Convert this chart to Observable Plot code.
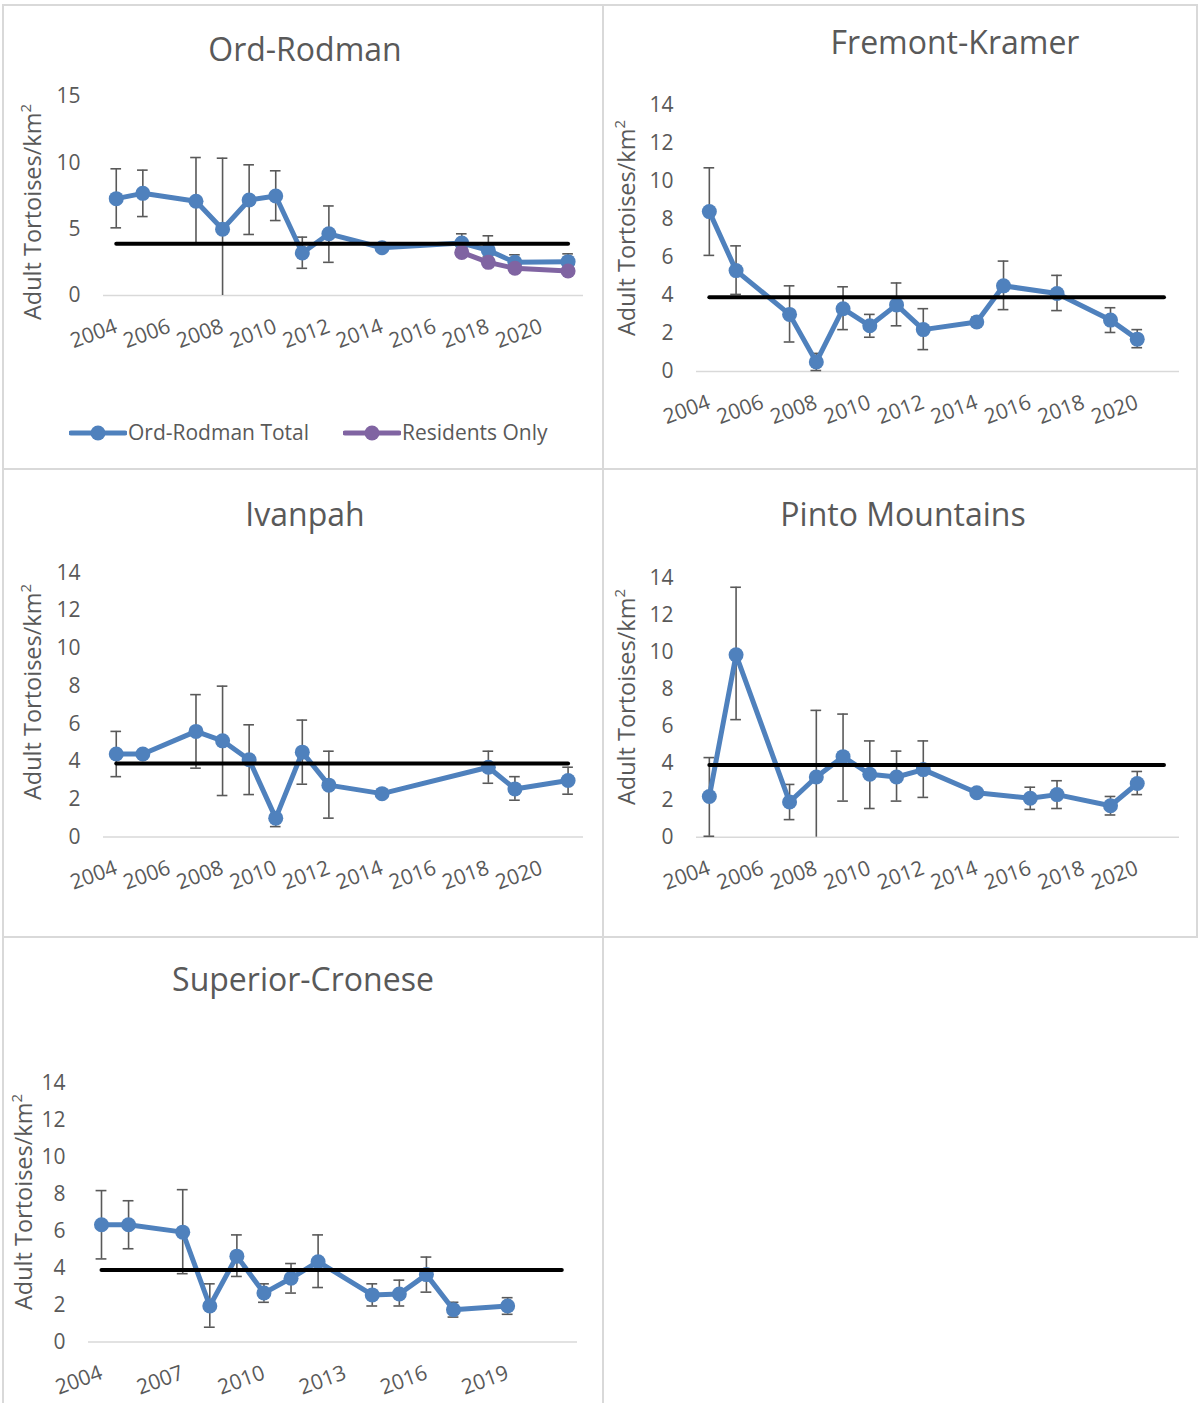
<!DOCTYPE html>
<html><head><meta charset="utf-8">
<script src="https://cdn.jsdelivr.net/npm/d3@7"></script>
<script src="https://cdn.jsdelivr.net/npm/@observablehq/plot@0.6"></script>
<style>
body{margin:0;background:#fff;}
#root{position:relative;width:1199px;height:1403px;overflow:hidden;font-family:"Open Sans",sans-serif;color:#595959;background:#fff;}
.ln{position:absolute;background:#d9d9d9;z-index:5;}
.title{position:absolute;font-size:32px;line-height:1;white-space:nowrap;transform:translateX(-50%);}
.ytitle{position:absolute;font-size:23.5px;line-height:1;white-space:nowrap;transform:translate(-50%,-50%) rotate(-90deg);}
.ytitle sup{font-size:15px;vertical-align:top;position:relative;top:-3px;}
.panel{position:absolute;}
.leg{position:absolute;font-size:21px;line-height:1;white-space:nowrap;}
</style></head><body><div id="root"></div><script>
// ---------- data ----------
const target = 3.9;
const targetYears = [2004, 2021];

const orYears = [2004,2005,2007,2008,2009,2010,2011,2012,2014,2017,2018,2019,2021];
const orTotal = [7.3,7.7,7.1,5.0,7.2,7.5,3.2,4.65,3.6,3.95,3.4,2.5,2.55];
const orLow   = [5.1,5.95,3.9,0,4.6,5.65,2.05,2.5,null,3.3,2.9,2.1,2.1];
const orHigh  = [9.55,9.45,10.4,10.35,9.85,9.4,4.4,6.75,null,4.65,4.5,3.07,3.14];
const resYears = [2017,2018,2019,2021];
const resOnly  = [3.25,2.5,2.05,1.85];

const fkYears = [2004,2005,2007,2008,2009,2010,2011,2012,2014,2015,2017,2019,2020];
const fkVals  = [8.4,5.3,3.0,0.5,3.3,2.4,3.5,2.2,2.6,4.5,4.1,2.7,1.7];
const fkLow   = [6.1,4.05,1.55,0.05,2.2,1.8,2.4,1.15,2.4,3.25,3.2,2.05,1.25];
const fkHigh  = [10.7,6.6,4.5,0.95,4.45,3.0,4.65,3.3,2.85,5.8,5.05,3.35,2.2];

const ivYears = [2004,2005,2007,2008,2009,2010,2011,2012,2014,2018,2019,2021];
const ivVals  = [4.4,4.4,5.6,5.1,4.1,1.0,4.5,2.75,2.3,3.7,2.55,3.0];
const ivLow   = [3.2,null,3.65,2.2,2.25,0.55,2.8,1.0,null,2.85,1.95,2.27];
const ivHigh  = [5.6,null,7.55,8.0,5.95,1.2,6.2,4.55,null,4.55,3.2,3.7];

const pmYears = [2004,2005,2007,2008,2009,2010,2011,2012,2014,2016,2017,2019,2020];
const pmVals  = [2.2,9.85,1.9,3.25,4.35,3.4,3.25,3.65,2.4,2.1,2.3,1.7,2.9];
const pmLow   = [0.05,6.35,0.95,0,1.95,1.55,1.95,2.15,null,1.5,1.55,1.2,2.3];
const pmHigh  = [4.3,13.5,2.85,6.85,6.65,5.2,4.65,5.2,null,2.7,3.05,2.2,3.55];

const scYears = [2004,2005,2007,2008,2009,2010,2011,2012,2014,2015,2016,2017,2019];
const scVals  = [6.35,6.35,5.95,1.95,4.65,2.65,3.45,4.35,2.55,2.6,3.65,1.75,1.95];
const scLow   = [4.5,5.05,3.7,0.8,3.55,2.15,2.65,2.95,1.95,1.95,2.7,1.35,1.5];
const scHigh  = [8.2,7.65,8.25,3.15,5.8,3.15,4.25,5.8,3.15,3.35,4.6,2.15,2.4];

const ticksEven = [2004,2006,2008,2010,2012,2014,2016,2018,2020];
const ticksThree = [2004,2007,2010,2013,2016,2019];
const yTicks15 = [0,5,10,15];
const yTicks14 = [0,2,4,6,8,10,12,14];

// ---------- drawing ----------
const BLUE = "#4f81bd", PURPLE = "#8064a2", ERR = "#595959";
const root = document.getElementById("root");

function rows(years, vals, lo, hi) {
  return years.map((y, i) => ({year: y, v: vals[i], lo: lo ? lo[i] : null, hi: hi ? hi[i] : null}));
}

function panel(cfg) {
  const data = rows(cfg.years, cfg.vals, cfg.lo, cfg.hi);
  const err = data.filter(d => d.hi != null);
  const tgt = targetYears.map(y => ({year: y, v: target}));
  const marks = [
    Plot.ruleY([0], {stroke: "#d9d9d9", strokeWidth: 1.5}),
    Plot.ruleX(err, {x: "year", y1: "lo", y2: "hi", stroke: ERR, strokeWidth: 1.6}),
    Plot.ruleY(err, {y: "hi", x1: d => d.year - 0.2, x2: d => d.year + 0.2, stroke: ERR, strokeWidth: 1.6}),
    Plot.ruleY(err.filter(d => d.lo > 0), {y: "lo", x1: d => d.year - 0.2, x2: d => d.year + 0.2, stroke: ERR, strokeWidth: 1.6}),
    Plot.line(data, {x: "year", y: "v", stroke: BLUE, strokeWidth: 5}),
    Plot.dot(data, {x: "year", y: "v", fill: BLUE, r: 7.5}),
  ];
  if (cfg.extra) {
    const ex = rows(cfg.extra.years, cfg.extra.vals);
    marks.push(Plot.line(ex, {x: "year", y: "v", stroke: PURPLE, strokeWidth: 5}));
    marks.push(Plot.dot(ex, {x: "year", y: "v", fill: PURPLE, r: 7.5}));
  }
  marks.push(Plot.line(tgt, {x: "year", y: "v", stroke: "#000", strokeWidth: 4}));
  marks.push(Plot.axisX({ticks: cfg.xticks, tickFormat: d => String(d), tickRotate: -20, tickSize: 0, tickPadding: 30, label: null}));
  marks.push(Plot.axisY({ticks: cfg.yticks, tickSize: 0, tickPadding: 23, label: null}));
  const svg = Plot.plot({
    width: cfg.width, height: cfg.height,
    marginTop: cfg.mt, marginBottom: cfg.mb, marginLeft: cfg.ml, marginRight: cfg.mr,
    x: {domain: [2003.52, 2021.58]},
    y: {domain: [0, cfg.ymax]},
    style: {fontSize: "21px", fontFamily: "'Open Sans', sans-serif", color: "#595959", background: "transparent", overflow: "visible"},
    marks
  });
  const wrap = document.createElement("div");
  wrap.className = "panel";
  wrap.style.left = cfg.left + "px";
  wrap.style.top = cfg.top + "px";
  wrap.appendChild(svg);
  root.appendChild(wrap);

  const t = document.createElement("div");
  t.className = "title";
  t.textContent = cfg.title;
  t.style.left = cfg.tx + "px";
  t.style.top = cfg.ty + "px";
  root.appendChild(t);

  const yt = document.createElement("div");
  yt.className = "ytitle";
  yt.innerHTML = "Adult Tortoises/km<sup>2</sup>";
  yt.style.left = cfg.yx + "px";
  yt.style.top = cfg.yy + "px";
  root.appendChild(yt);
}

panel({title: "Ord-Rodman", years: orYears, vals: orTotal, lo: orLow, hi: orHigh,
  extra: {years: resYears, vals: resOnly}, xticks: ticksEven, yticks: yTicks15, ymax: 15,
  left: 3, top: 60, width: 597, height: 300, mt: 36, mb: 65, ml: 100, mr: 17,
  tx: 305, ty: 33, yx: 33, yy: 212});
panel({title: "Fremont-Kramer", years: fkYears, vals: fkVals, lo: fkLow, hi: fkHigh,
  xticks: ticksEven, yticks: yTicks14, ymax: 14,
  left: 605, top: 70, width: 590, height: 366, mt: 34.5, mb: 65, ml: 91, mr: 16,
  tx: 955, ty: 26, yx: 627, yy: 228});
panel({title: "Ivanpah", years: ivYears, vals: ivVals, lo: ivLow, hi: ivHigh,
  xticks: ticksEven, yticks: yTicks14, ymax: 14,
  left: 3, top: 540, width: 597, height: 362, mt: 32.5, mb: 65.5, ml: 100, mr: 17,
  tx: 305, ty: 498, yx: 33, yy: 692});
panel({title: "Pinto Mountains", years: pmYears, vals: pmVals, lo: pmLow, hi: pmHigh,
  xticks: ticksEven, yticks: yTicks14, ymax: 14,
  left: 605, top: 540, width: 590, height: 362, mt: 37.5, mb: 65.3, ml: 91, mr: 16,
  tx: 903, ty: 498, yx: 627, yy: 697});
panel({title: "Superior-Cronese", years: scYears, vals: scVals, lo: scLow, hi: scHigh,
  xticks: ticksThree, yticks: yTicks14, ymax: 14,
  left: 3, top: 1050, width: 597, height: 353, mt: 33, mb: 61.5, ml: 85, mr: 23,
  tx: 303, ty: 963, yx: 24, yy: 1202});

// legend for Ord-Rodman
function legendItem(x, color, label) {
  const s = document.createElementNS("http://www.w3.org/2000/svg", "svg");
  s.setAttribute("width", 58); s.setAttribute("height", 20);
  s.style.position = "absolute"; s.style.left = x + "px"; s.style.top = "423px";
  s.innerHTML = `<line x1="2" x2="56" y1="10" y2="10" stroke="${color}" stroke-width="5" stroke-linecap="round"/><circle cx="29" cy="10" r="7.5" fill="${color}"/>`;
  root.appendChild(s);
  const d = document.createElement("div");
  d.className = "leg"; d.textContent = label;
  d.style.left = (x + 59) + "px"; d.style.top = "422px";
  root.appendChild(d);
}
legendItem(69, BLUE, "Ord-Rodman Total");
legendItem(343, PURPLE, "Residents Only");

// panel borders
function line(x, y, w, h) {
  const d = document.createElement("div");
  d.className = "ln";
  Object.assign(d.style, {left: x + "px", top: y + "px", width: w + "px", height: h + "px"});
  root.appendChild(d);
}
line(2, 4, 1196, 2);
line(2, 4, 2, 1399);
line(602, 4, 2, 1399);
line(1196, 4, 2, 934);
line(2, 468, 1196, 2);
line(2, 936, 1196, 2);
</script></body></html>
